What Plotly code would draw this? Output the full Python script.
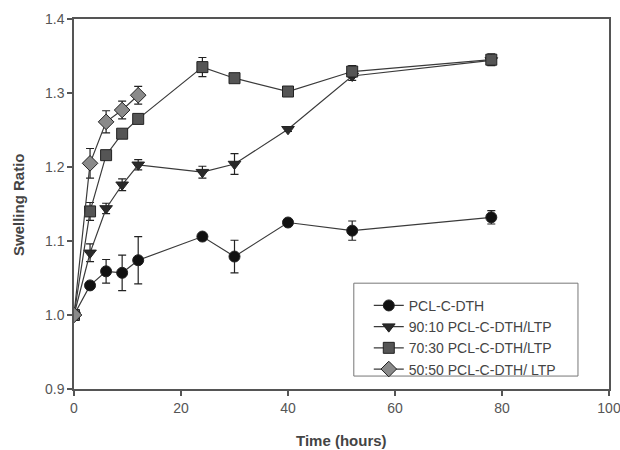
import plotly.graph_objects as go

time_a = [0, 3, 6, 9, 12, 24, 30, 40, 52, 78]
time_d = [0, 3, 6, 9, 12]

pcl = [1.000, 1.040, 1.059, 1.057, 1.074, 1.106, 1.079, 1.125, 1.114, 1.132]
pcl_err = [0.0, 0.004, 0.016, 0.024, 0.032, 0.0, 0.022, 0.003, 0.013, 0.009]

r90 = [1.000, 1.084, 1.144, 1.176, 1.203, 1.193, 1.204, 1.251, 1.323, 1.344]
r90_err = [0.0, 0.012, 0.007, 0.008, 0.007, 0.008, 0.014, 0.003, 0.006, 0.006]

r70 = [1.000, 1.140, 1.216, 1.245, 1.265, 1.335, 1.320, 1.302, 1.329, 1.345]
r70_err = [0.0, 0.012, 0.005, 0.004, 0.004, 0.013, 0.003, 0.006, 0.008, 0.008]

r50 = [1.000, 1.205, 1.261, 1.277, 1.297]
r50_err = [0.0, 0.020, 0.015, 0.012, 0.012]

names = ["PCL-C-DTH", "90:10 PCL-C-DTH/LTP", "70:30 PCL-C-DTH/LTP", "50:50 PCL-C-DTH/ LTP"]
xs = [time_a, time_a, time_a, time_d]
ys = [pcl, r90, r70, r50]
errs = [pcl_err, r90_err, r70_err, r50_err]
symbols = ["circle", "triangle-down", "square", "diamond"]
fills = ["#111111", "#2a2a2a", "#555555", "#8a8a8a"]
sizes = [11, 11, 11, 12]

FONT = "Liberation Sans, Arial, sans-serif"

fig = go.Figure()
for x, y, e, n, s, c, sz in zip(xs, ys, errs, names, symbols, fills, sizes):
    fig.add_trace(go.Scatter(
        x=x, y=y, name=n, mode="lines+markers",
        line=dict(color="#3a3a3a", width=1.2),
        marker=dict(symbol=s, size=sz, color=c, line=dict(color="#222222", width=1)),
        error_y=dict(type="data", array=e, visible=True, color="#222222", thickness=1.2, width=4),
    ))

axis_common = dict(
    showgrid=False, zeroline=False, showline=True, linecolor="#555555", linewidth=1.5,
    mirror=True, ticks="outside", ticklen=5, tickcolor="#555555", tickwidth=1.5,
    tickfont=dict(family=FONT, size=14, color="#555555"), automargin=False,
    ticklabeloverflow="allow",
)

# legend frame drawn as a shape so its size matches the reference
fig.add_shape(type="rect", xref="paper", yref="paper",
              x0=0.523, x1=0.942, y0=0.035, y1=0.286,
              line=dict(color="#777777", width=1), fillcolor="white", layer="below")

# axis titles
fig.add_annotation(text="<b>Time (hours)</b>", xref="paper", yref="paper",
                   x=0.5, y=-0.138, xanchor="center", yanchor="middle", showarrow=False,
                   font=dict(family=FONT, size=15, color="#444444"))
fig.add_annotation(text="<b>Swelling Ratio</b>", xref="paper", yref="paper",
                   x=-0.1047, y=0.5, xanchor="center", yanchor="middle", showarrow=False,
                   textangle=-90, font=dict(family=FONT, size=15, color="#444444"))

fig.update_layout(
    width=620, height=450,
    margin=dict(l=74, r=11, t=19, b=61),
    paper_bgcolor="white", plot_bgcolor="white",
    font=dict(family=FONT, color="#444444"),
    xaxis=dict(range=[0, 100], tickvals=[0, 20, 40, 60, 80, 100], **axis_common),
    yaxis=dict(range=[0.9, 1.4], tickvals=[0.9, 1.0, 1.1, 1.2, 1.3, 1.4],
               ticktext=["0.9", "1.0", "1.1", "1.2", "1.3", "1.4"], **axis_common),
    legend=dict(x=0.551, y=0.268, xanchor="left", yanchor="top",
                borderwidth=0, bgcolor="rgba(0,0,0,0)",
                font=dict(family=FONT, size=14, color="#444444"),
                itemwidth=30, tracegroupgap=0),
    showlegend=True,
)

fig.write_html("out.html")
